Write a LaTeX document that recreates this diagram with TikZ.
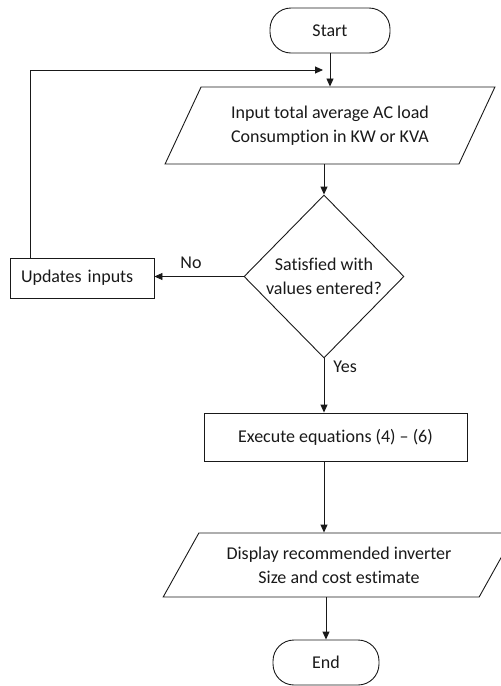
\documentclass[tikz,border=0pt]{standalone}
\usepackage{fontspec}
\setmainfont{Carlito}[Ligatures={TeX,NoCommon}]
\usetikzlibrary{arrows.meta,calc,shapes.geometric}
\definecolor{ink}{RGB}{25,25,25}

\begin{document}
\begin{tikzpicture}[x=1pt,y=1pt,line width=0.9pt,draw=ink,
  every node/.style={font=\fontsize{18}{24}\selectfont,text=ink,inner sep=0pt},
  term/.style={draw,rounded corners=21pt,minimum height=45pt},
  proc/.style={draw,rectangle},
  io/.style={draw,trapezium,trapezium stretches=true,align=center},
  ask/.style={draw,diamond,aspect=1,align=center},
  arr/.style={-{Triangle[length=8pt,width=7pt]}}]
  \useasboundingbox (0,0) rectangle (501,-686);
  \node[term,minimum width=120pt] (start) at (330,-30.5){Start};
  \node[io,trapezium left angle=55,trapezium right angle=125,minimum width=330pt,minimum height=77pt] (in) at (330,-125.5){Input total average AC load\\Consumption in KW or KVA};
  \node[ask,minimum width=160pt,minimum height=163pt] (dec) at (324,-276.5){Satisfied with\\values entered?};
  \node[proc,text width=122pt,inner xsep=11pt,minimum height=40pt,align=left] (upd) at (82,-278){Updates inputs};
  \node[proc,minimum width=263pt,minimum height=48pt] (exec) at (335.5,-437){Execute equations (4) -- (6)};
  \node[io,trapezium left angle=52,trapezium right angle=128,minimum width=352pt,minimum height=64pt] (out) at (339,-565){Display recommended inverter\\Size and cost estimate};
  \node[term,minimum width=106pt] (stop) at (326,-662.5){End};
  \node (no) at (191,-263){No};
  \node[anchor=west] (yes) at (333,-367){Yes};
  \coordinate (loopend) at ($(start.south)!.5!(in.north)+(-7,0)$);
  % connectors
  \draw[arr] (start) -- (start |- in.north);
  \draw[arr] (in.south -| dec) -- (dec);
  \draw[arr] (dec.west) -- (dec.west -| upd.east);
  \draw[arr] ([xshift=21pt]upd.north west) |- (loopend);
  \draw[arr] (dec) -- (dec |- exec.north);
  \draw[arr] (exec.south -| dec) -- (dec |- out.north);
  \draw[arr] (out.south -| stop) -- (stop);
\end{tikzpicture}
\end{document}
